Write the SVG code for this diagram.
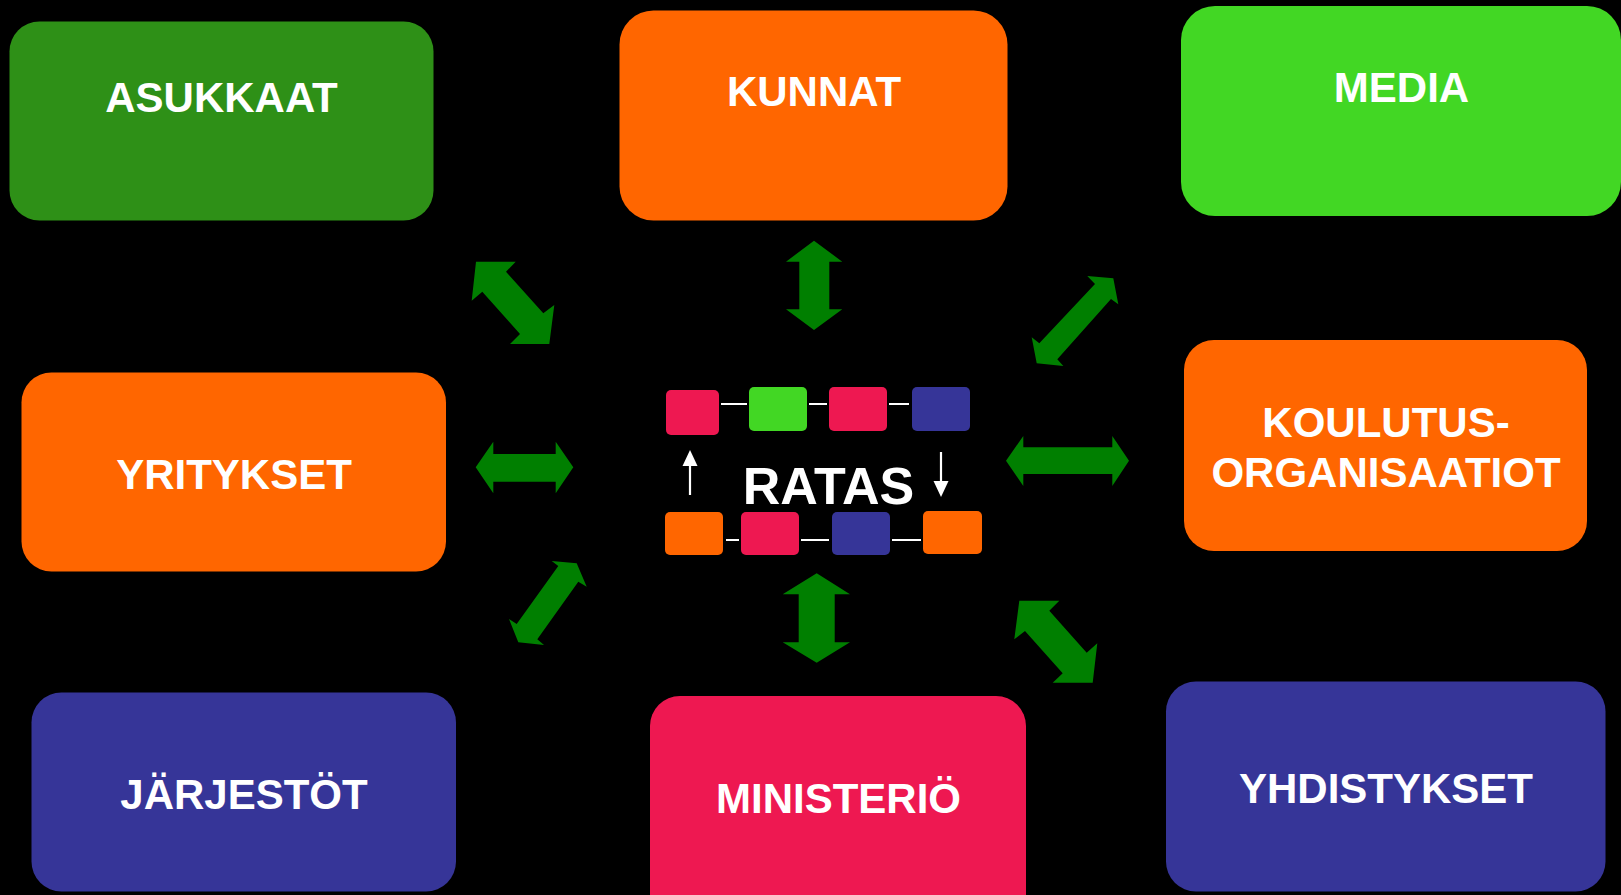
<svg xmlns="http://www.w3.org/2000/svg" width="1621" height="895" viewBox="0 0 1621 895">
<style>
.lbl{font-family:"Liberation Sans",Arial,sans-serif;font-weight:bold;font-size:42px;fill:#ffffff;text-anchor:middle}
.arr{fill:#007f00}
.org{fill:#ff6600}.grn{fill:#2e9017}.lim{fill:#42d724}.red{fill:#ee1851}.blu{fill:#363598}
.ln{stroke:#ffffff;stroke-width:2.2;fill:none}
</style>
<rect width="1621" height="895" fill="#000000"/>
<g id="asukkaat"><rect class="grn" x="9.5" y="21.5" width="424" height="199" rx="30"/><text class="lbl" x="221.5" y="112">ASUKKAAT</text></g>
<g id="kunnat"><rect class="org" x="619.5" y="10.5" width="388" height="210" rx="34"/><text class="lbl" x="814" y="106">KUNNAT</text></g>
<g id="media"><rect class="lim" x="1181" y="6" width="440" height="210" rx="34"/><text class="lbl" x="1401.5" y="102">MEDIA</text></g>
<g id="yritykset"><rect class="org" x="21.5" y="372.5" width="424.5" height="199" rx="30"/><text class="lbl" x="234" y="489">YRITYKSET</text></g>
<g id="koulutus"><rect class="org" x="1184" y="340" width="403" height="211" rx="30"/><text class="lbl" x="1386" y="436.5">KOULUTUS-</text><text class="lbl" x="1386" y="486.5">ORGANISAATIOT</text></g>
<g id="jarjestot"><rect class="blu" x="31.5" y="692.5" width="424.5" height="199" rx="30"/><text class="lbl" x="244" y="809">JÄRJESTÖT</text></g>
<g id="ministerio"><rect class="red" x="650" y="696" width="376" height="230" rx="30"/><text class="lbl" x="838.5" y="813">MINISTERIÖ</text></g>
<g id="yhdistykset"><rect class="blu" x="1166" y="681.5" width="439.5" height="210" rx="30"/><text class="lbl" x="1386" y="802.5">YHDISTYKSET</text></g>
<g id="ratas">
<rect class="red" x="666" y="390" width="53" height="45" rx="5"/>
<rect class="lim" x="749" y="387" width="58" height="44" rx="5"/>
<rect class="red" x="829" y="387" width="58" height="44" rx="5"/>
<rect class="blu" x="912" y="387" width="58" height="44" rx="5"/>
<rect class="org" x="665" y="512" width="58" height="43" rx="5"/>
<rect class="red" x="741" y="512" width="58" height="43" rx="5"/>
<rect class="blu" x="832" y="512" width="58" height="43" rx="5"/>
<rect class="org" x="923" y="511" width="59" height="43" rx="5"/>
<path class="ln" d="M721 404H747M809 404H827M889 404H909M726 540H739M801 540H829M892 540H921"/>
<path class="ln" d="M690 495V462M941 452V485"/>
<polygon fill="#ffffff" points="690,450 697.5,466 682.5,466"/>
<polygon fill="#ffffff" points="941,497 948.5,481 933.5,481"/>
<text x="828.5" y="503.5" style="font-family:'Liberation Sans',Arial,sans-serif;font-weight:bold;font-size:52px;fill:#ffffff;text-anchor:middle">RATAS</text>
</g>
<g id="connectors">
<polygon class="arr" points="476,261.7 515.7,261.7 506,271.7 543.3,313.3 554.3,305 549.3,344 510,344 520,334 482.3,291.7 471.7,300.7"/>
<polygon class="arr" points="814,240.7 842.3,261.7 829.3,261.7 829.3,309.3 842.3,309.3 814,330 786,309.3 799.3,309.3 799.3,261.7 786,261.7"/>
<polygon class="arr" points="1087.3,276 1113.3,278.3 1118.3,304.3 1111,299 1057.3,359.3 1063.3,366 1036.7,363.3 1031.7,337.3 1039.3,343.3 1095,284"/>
<polygon class="arr" points="475.7,467.3 493.3,441.7 493.3,454 555.7,454 555.7,441.7 573.3,467.3 555.7,493.3 555.7,481.7 493.3,481.7 493.3,493.3"/>
<polygon class="arr" points="1006,460.7 1023.3,436 1023.3,447.3 1112.3,447.3 1112.3,436 1129,460.7 1112.3,486 1112.3,474 1023.3,474 1023.3,486"/>
<polygon class="arr" points="551.7,561 576.7,563.3 586.7,586.7 578.3,581.7 537.3,639.3 544,645 518.3,642.3 509,619 516.7,624 558.3,566"/>
<polygon class="arr" points="816.7,573.3 850,594.3 834.7,594.3 834.7,642.3 850,642.3 816.7,662.7 782.7,642.3 798.7,642.3 798.7,594.3 782.7,594.3"/>
<polygon class="arr" points="1019.3,600.7 1059.3,600.7 1049.3,610.7 1086.7,652.7 1097.3,643.3 1092.7,682.7 1052.7,682.7 1062.7,673.3 1025,631 1014.3,639.3"/>
</g>
</svg>
